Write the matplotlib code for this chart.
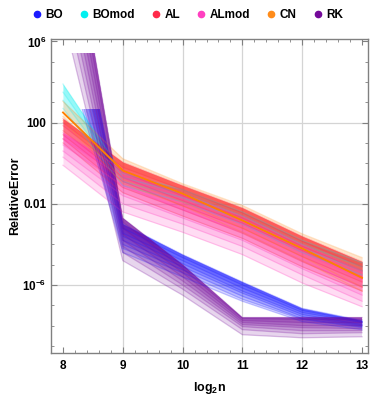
import numpy as np
import matplotlib
matplotlib.use("Agg")
import matplotlib.pyplot as plt
from matplotlib.patches import Rectangle
from matplotlib.lines import Line2D

plt.rcParams['font.family'] = ['Liberation Sans', 'DejaVu Sans']
plt.rcParams['mathtext.fontset'] = 'custom'
plt.rcParams['mathtext.rm'] = 'Liberation Sans'
plt.rcParams['mathtext.bf'] = 'Liberation Sans:bold'

log_n = [8, 9, 10, 11, 12, 13]

# log10 of the relative error, one row per run
bo_exp = [
    [11.5, -3.0, -4.50, -5.85, -7.15, -7.75],
    [10.6, -3.2, -4.65, -6.00, -7.25, -7.80],
    [9.4, -3.45, -4.80, -6.15, -7.35, -7.85],
    [8.6, -3.6, -4.95, -6.30, -7.45, -7.95],
    [7.6, -3.8, -5.10, -6.40, -7.55, -8.00],
    [7.0, -4.0, -5.25, -6.55, -7.65, -8.05],
    [6.4, -4.2, -5.40, -6.70, -7.70, -8.10],
    [6.0, -4.4, -5.60, -6.80, -7.80, -8.20],
]
bomod_exp = [
    [3.9, -0.5, -1.3, -2.4, -3.8, -4.9],
    [3.5, -0.7, -1.5, -2.6, -4.0, -5.1],
    [3.1, -0.9, -1.7, -2.8, -4.2, -5.3],
    [2.7, -1.1, -1.9, -3.0, -4.4, -5.5],
]
al_exp = [
    [2.2, 0.05, -1.1, -2.2, -3.6, -4.85],
    [2.0, -0.2, -1.3, -2.45, -3.85, -5.1],
    [1.85, -0.45, -1.6, -2.7, -4.1, -5.3],
    [1.6, -0.7, -1.85, -2.95, -4.3, -5.6],
    [1.4, -0.9, -2.1, -3.2, -4.6, -5.85],
    [1.2, -1.2, -2.3, -3.45, -4.85, -6.1],
    [1.0, -1.45, -2.6, -3.7, -5.1, -6.3],
]
almod_exp = [
    [1.5, -0.3, -1.5, -2.6, -4.0, -5.3],
    [1.2, -0.7, -1.9, -3.0, -4.4, -5.7],
    [0.9, -1.1, -2.3, -3.4, -4.8, -6.1],
    [0.6, -1.6, -2.7, -3.8, -5.2, -6.5],
    [0.3, -2.0, -3.0, -4.1, -5.5, -6.8],
    [-0.1, -2.4, -3.4, -4.5, -5.9, -7.07],
]
cn_exp = [
    [3.05, 0.22, -1.01, -2.08, -3.48, -4.65],
    [2.5, -0.36, -1.5, -2.82, -4.2, -5.65],
    [2.3, -0.8, -1.9, -3.2, -4.6, -6.1],
    [2.1, -1.0, -2.1, -3.4, -4.8, -6.3],
]
rk_exp = [
    [14.5, -2.7, -5.0, -7.60, -7.60, -7.60],
    [13.5, -2.9, -5.2, -7.65, -7.70, -7.70],
    [12.5, -3.2, -5.4, -7.75, -7.85, -7.85],
    [11.5, -3.5, -5.6, -7.85, -8.00, -8.00],
    [10.5, -3.8, -5.8, -7.95, -8.10, -8.15],
    [9.5, -4.1, -6.0, -8.05, -8.25, -8.25],
    [8.5, -4.4, -6.2, -8.20, -8.40, -8.35],
    [7.3, -4.8, -6.5, -8.45, -8.60, -8.55],
]

methods = ['BO', 'BOmod', 'AL', 'ALmod', 'CN', 'RK']
runs = [bo_exp, bomod_exp, al_exp, almod_exp, cn_exp, rk_exp]
colors = ['#1a1aff', '#00f0f0', '#ff2a4a', '#ff40c0', '#ff8c1a', '#74099a']
fill_alpha = [0.16, 0.16, 0.24, 0.18, 0.08, 0.17]
# top of the drawn range per method (exponent), the rest is clipped away
clip_top = [2.67, 6.2, 6.2, 6.2, 6.2, 5.44]

fig = plt.figure(figsize=(3.74, 3.97), dpi=100)
ax = fig.add_axes([0.1364, 0.1108, 0.8476, 0.791])
ax.set_yscale('log')
ax.set_xlim(7.834, 13.1)
ax.set_ylim(10 ** -9.35, 10 ** 6.12)

for x in [9, 10, 11, 12]:
    ax.axvline(x, color='#d4d4d4', lw=0.9, zorder=0)
for e in [2, -2, -6]:
    ax.axhline(10.0 ** e, color='#d4d4d4', lw=0.9, zorder=0)

for rows, c, a, top in zip(runs, colors, fill_alpha, clip_top):
    vals = 10.0 ** np.array(rows)
    clip = Rectangle((7, 1e-20), 8, 10.0 ** top - 1e-20, transform=ax.transData)
    for row in vals[1:]:
        f = ax.fill_between(log_n, vals[0], row, color=c, alpha=a, lw=0)
        f.set_clip_path(clip)
    for row in vals:
        ln, = ax.plot(log_n, row, color=c, alpha=0.25, lw=0.9)
        ln.set_clip_path(clip)

# the one solid CN line
ax.plot(log_n, 10.0 ** np.array(cn_exp[1]), color='#ff8000', lw=1.3)

ax.set_xticks(log_n)
ax.set_xticks(np.arange(7.8, 13.11, 0.2), minor=True)
ax.set_yticks([1e-6, 1e-2, 1e2, 1e6],
              labels=[r'$\mathbf{10^{-6}}$', '0.01', '100', r'$\mathbf{10^{6}}$'])
ax.set_yticks([10.0 ** k for k in range(-9, 7)], minor=True)
ax.set_yticklabels([], minor=True)
ax.tick_params(which='both', direction='in', top=True, right=True,
               color='#808080', labelsize=8.5, labelcolor='black')
ax.tick_params(which='major', length=4.5, width=0.8)
ax.tick_params(which='minor', length=2.5, width=0.6)
ax.tick_params(axis='x', pad=5)
for lbl in ax.get_xticklabels() + ax.get_yticklabels():
    lbl.set_fontweight('bold')
for s in ax.spines.values():
    s.set_color('#808080')
    s.set_linewidth(1)

ax.set_xlabel(r'$\mathbf{log_{2}n}$', fontsize=9, labelpad=6)
ax.set_ylabel('RelativeError', fontsize=9, fontweight='bold', labelpad=0.5)

handles = [Line2D([], [], marker='o', ls='none', color=c, markersize=4.5) for c in colors]
fig.legend(handles, methods, loc='upper center', bbox_to_anchor=(0.5, 1.003), ncol=6,
           frameon=False, prop={'weight': 'bold', 'size': 8.5}, handletextpad=0.2,
           columnspacing=1.3, handlelength=1.0)

fig.savefig('out.png', dpi=100)
